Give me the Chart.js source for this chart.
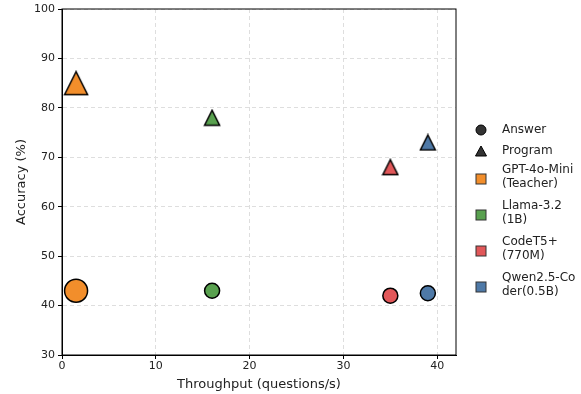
<!DOCTYPE html>
<html>
<head>
<meta charset="utf-8">
<script src="https://cdn.jsdelivr.net/npm/chart.js@4/dist/chart.umd.min.js"></script>
<style>
  html, body { margin: 0; padding: 0; background: #fff; }
  #wrap { width: 581px; height: 394px; }
</style>
</head>
<body>
<div id="wrap"><canvas id="chart" width="581" height="394"></canvas></div>
<script>
// data
const models = ['GPT-4o-Mini\n(Teacher)', 'Llama-3.2\n(1B)', 'CodeT5+\n(770M)', 'Qwen2.5-Co\nder(0.5B)'];
const throughput = [1.5, 16, 35, 39];
const answerAcc = [43, 43, 42, 42.5];
const programAcc = [85, 78, 68, 73];
const modelColors = ['#F28E2B', '#59A14F', '#E15759', '#4E79A7'];
const xTicks = [0, 10, 20, 30, 40];
const yTicks = [30, 40, 50, 60, 70, 80, 90, 100];

const FONT = '"DejaVu Sans", sans-serif';

// matplotlib-like '^' marker: width == height, centred on the bounding box
function triangleMarker(color, size) {
    const pad = 1.5;
    const c = document.createElement('canvas');
    c.width = size + pad * 2;
    c.height = size + pad * 2;
    const g = c.getContext('2d');
    g.beginPath();
    g.moveTo(pad + size / 2, pad);
    g.lineTo(pad + size, pad + size);
    g.lineTo(pad, pad + size);
    g.closePath();
    g.fillStyle = color;
    g.fill();
    g.lineWidth = 1.5;
    g.strokeStyle = '#000';
    g.lineJoin = 'miter';
    g.stroke();
    return c;
}

const datasets = models.map((name, i) => {
    const big = i === 0;
    return {
        label: name,
        data: [
            { x: throughput[i], y: answerAcc[i] },
            { x: throughput[i], y: programAcc[i] }
        ],
        pointStyle: ['circle', triangleMarker(modelColors[i], big ? 23 : 15)],
        pointRadius: [big ? 11.5 : 7.5, big ? 12 : 8],
        pointHoverRadius: [big ? 11.5 : 7.5, big ? 12 : 8],
        backgroundColor: modelColors[i],
        borderColor: '#000',
        borderWidth: 1.5
    };
});

const frameAndLegend = {
    id: 'frameAndLegend',
    afterDraw(chart) {
        const { ctx, chartArea: a } = chart;
        ctx.save();
        ctx.strokeStyle = '#000';
        ctx.lineWidth = 1;
        ctx.strokeRect(a.left, a.top, a.right - a.left, a.bottom - a.top);

        // legend
        const hx = 481, tx = 502;
        ctx.font = '12px ' + FONT;
        ctx.fillStyle = '#222';
        ctx.textBaseline = 'middle';
        ctx.textAlign = 'left';
        ctx.lineWidth = 1;

        ctx.beginPath();
        ctx.arc(hx, 130, 5, 0, Math.PI * 2);
        ctx.fillStyle = '#333';
        ctx.fill();
        ctx.strokeStyle = '#000';
        ctx.stroke();
        ctx.fillStyle = '#222';
        ctx.fillText('Answer', tx, 130);

        ctx.beginPath();
        ctx.moveTo(hx, 146);
        ctx.lineTo(hx + 5.5, 156);
        ctx.lineTo(hx - 5.5, 156);
        ctx.closePath();
        ctx.fillStyle = '#333';
        ctx.fill();
        ctx.stroke();
        ctx.fillStyle = '#222';
        ctx.fillText('Program', tx, 151);

        models.forEach((name, i) => {
            const y0 = 170 + i * 36;
            const lines = name.split('\n');
            ctx.fillStyle = modelColors[i];
            ctx.fillRect(hx - 5, y0 + 4, 10, 10);
            ctx.strokeStyle = '#333';
            ctx.strokeRect(hx - 5, y0 + 4, 10, 10);
            ctx.fillStyle = '#222';
            lines.forEach((ln, k) => ctx.fillText(ln, tx, y0 + k * 14));
        });
        ctx.restore();
    }
};

const gridOpts = {
    color: '#dedede',
    tickLength: 4,
    tickColor: '#000',
    tickBorderDash: [],
    tickWidth: 1
};

new Chart(document.getElementById('chart'), {
    type: 'scatter',
    data: { datasets },
    options: {
        responsive: false,
        animation: false,
        layout: { autoPadding: false, padding: { left: 14, right: 125, top: 9, bottom: 2 } },
        plugins: {
            legend: { display: false },
            tooltip: { enabled: false }
        },
        scales: {
            x: {
                min: 0,
                max: 42,
                afterBuildTicks: s => { s.ticks = xTicks.map(v => ({ value: v })); },
                afterFit: s => { s.height = 37; s.paddingLeft = 0; s.paddingRight = 0; },
                grid: gridOpts,
                border: { color: '#000', width: 1, dash: [4, 3] },
                ticks: { color: '#222', font: { family: FONT, size: 11 }, padding: 1, maxRotation: 0 },
                title: {
                    display: true,
                    text: 'Throughput (questions/s)',
                    color: '#222',
                    font: { family: FONT, size: 13 },
                    padding: { top: 1, bottom: 0 }
                }
            },
            y: {
                min: 30,
                max: 100,
                afterBuildTicks: s => { s.ticks = yTicks.map(v => ({ value: v })); },
                afterFit: s => { s.width = 48; s.paddingTop = 0; s.paddingBottom = 0; },
                grid: gridOpts,
                border: { color: '#000', width: 1, dash: [4, 3] },
                ticks: { color: '#222', font: { family: FONT, size: 11 }, padding: 3 },
                title: {
                    display: true,
                    text: 'Accuracy (%)',
                    color: '#222',
                    font: { family: FONT, size: 13 },
                    padding: { top: 0, bottom: 2 }
                }
            }
        }
    },
    plugins: [frameAndLegend]
});
</script>
</body>
</html>
